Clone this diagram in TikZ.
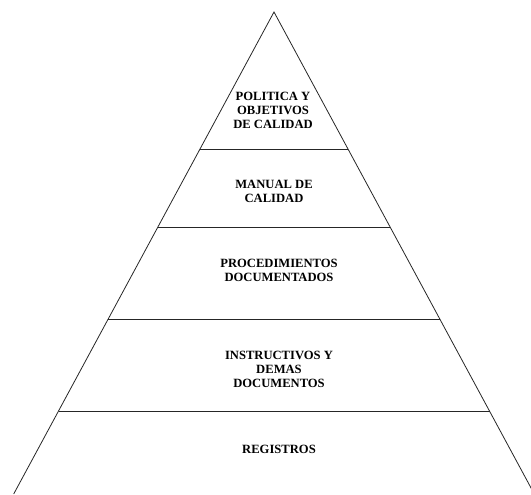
\documentclass[tikz,border=0pt]{standalone}
\usepackage{fontspec}
\setmainfont{Liberation Serif}
\begin{document}
\begin{tikzpicture}[x=1pt,y=1pt,
  edge/.style={line width=0.8pt,black!85},
  lbl/.style={align=center,font=\fontsize{12.6}{14}\selectfont\bfseries,inner sep=0pt}]
\useasboundingbox (0,0) rectangle (531,495);
\clip (0,0) rectangle (531,495);
% triangle: apex (274,483), base y=1, half slope 0.54
\coordinate (apex) at (274,483);
\coordinate (bl) at (13.7,1);
\coordinate (br) at (534.3,1);
\draw[edge] (bl) -- (apex) -- (br);
% dividing lines (image y 149, 227, 319, 411)
\coordinate (l1) at (200.0,346);
\coordinate (r1) at (348.0,346);
\coordinate (l2) at (157.9,268);
\coordinate (r2) at (390.1,268);
\coordinate (l3) at (108.2,176);
\coordinate (r3) at (439.8,176);
\coordinate (l4) at (58.5,84);
\coordinate (r4) at (489.5,84);
\draw[edge] (l1) -- (r1);
\draw[edge] (l2) -- (r2);
\draw[edge] (l3) -- (r3);
\draw[edge] (l4) -- (r4);
\node[lbl] (t1) at (273,385) {POLITICA Y\\OBJETIVOS\\DE CALIDAD};
\node[lbl] (t2) at (274,303.5) {MANUAL DE\\CALIDAD};
\node[lbl] (t3) at (279,224.5) {PROCEDIMIENTOS\\DOCUMENTADOS};
\node[lbl] (t4) at (279,126) {INSTRUCTIVOS Y\\DEMAS\\DOCUMENTOS};
\node[lbl] (t5) at (279,45.5) {REGISTROS};
\end{tikzpicture}
\end{document}
